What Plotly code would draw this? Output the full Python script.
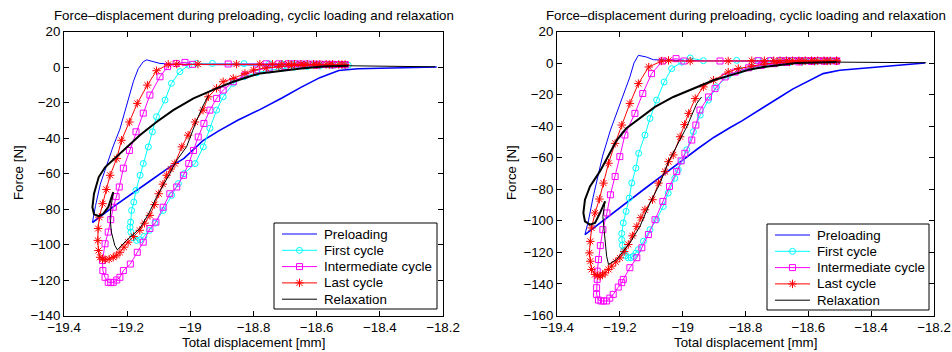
import plotly.graph_objects as go

# ---------------- data ----------------
x_tick_vals = [-19.4, -19.2, -19.0, -18.8, -18.6, -18.4, -18.2]
x_tick_text = ["\u221219.4", "\u221219.2", "\u221219", "\u221218.8", "\u221218.6", "\u221218.4", "\u221218.2"]
series_names = ["Preloading", "First cycle", "Intermediate cycle", "Last cycle", "Relaxation"]
series_colors = ["#0000ff", "#00ffff", "#ff00ff", "#ff0000", "#000000"]
series_symbols = [None, "circle-open", "square-open", "asterisk-open", None]
title_text = "Force\u2013displacement during preloading, cyclic loading and relaxation"

# ---- left panel ----
pre_load_L = [(-18.22, 0.0), (-18.30, -0.3), (-18.40, -0.6), (-18.47, -1.0), (-18.53, -2.0), (-18.59, -6.0),
              (-18.65, -11.5), (-18.71, -17.5), (-18.78, -24.0), (-18.85, -30.0), (-18.91, -36.0), (-18.96, -41.5),
              (-19.02, -51.5), (-19.07, -57.0), (-19.13, -64.5), (-19.19, -72.0), (-19.25, -79.5), (-19.31, -87.6)]
pre_unl_L = [(-19.31, -87.6), (-19.30, -78.0), (-19.285, -66.0), (-19.265, -55.0), (-19.245, -45.0), (-19.223, -35.0),
             (-19.20, -21.0), (-19.18, -8.0), (-19.165, -1.0), (-19.149, 3.0), (-19.138, 4.0), (-19.12, 3.0),
             (-19.096, 2.0), (-19.05, 1.5), (-18.95, 1.3), (-18.80, 1.1), (-18.65, 0.9), (-18.50, 0.7)]
first_L = [(-18.50, 1.0), (-18.52, 1.1), (-18.54, 1.2), (-18.56, 1.3), (-18.58, 1.4), (-18.60, 1.5), (-18.62, 1.5),
           (-18.64, 1.6), (-18.66, 1.6), (-18.68, 1.7), (-18.71, 1.8), (-18.75, 1.8), (-18.83, 1.9), (-18.93, 2.0),
           (-18.98, 2.0), (-19.005, 1.0), (-19.033, -2.6), (-19.06, -9.2), (-19.08, -18.6), (-19.107, -28.0),
           (-19.12, -36.5), (-19.133, -45.0), (-19.149, -54.4), (-19.159, -61.0), (-19.172, -69.5), (-19.179, -76.1),
           (-19.186, -80.8), (-19.189, -87.4), (-19.191, -90.2), (-19.188, -93.1), (-19.181, -96.2), (-19.170, -97.7),
           (-19.159, -97.4), (-19.147, -95.5), (-19.130, -92.1), (-19.112, -88.0), (-19.086, -80.8), (-19.059, -72.3),
           (-19.038, -65.7), (-19.020, -60.1), (-18.985, -54.4), (-18.959, -45.0), (-18.938, -34.5), (-18.917, -24.3),
           (-18.896, -16.8), (-18.864, -9.2), (-18.83, -5.5), (-18.79, -3.3), (-18.75, -1.8), (-18.71, -0.8),
           (-18.67, -0.1), (-18.63, 0.3), (-18.59, 0.6), (-18.55, 0.8), (-18.51, 0.9)]
inter_L = [(-18.51, 1.3), (-18.53, 1.4), (-18.55, 1.5), (-18.57, 1.5), (-18.59, 1.6), (-18.61, 1.6), (-18.63, 1.7),
           (-18.65, 1.7), (-18.67, 1.8), (-18.69, 1.8), (-18.72, 1.8), (-18.76, 1.8), (-18.88, 1.7), (-18.993, 1.5),
           (-19.017, 2.6), (-19.045, 2.0), (-19.072, 0.2), (-19.096, -5.5), (-19.128, -15.8), (-19.149, -26.0),
           (-19.172, -36.5), (-19.193, -47.0), (-19.212, -57.0), (-19.225, -67.6), (-19.235, -73.0), (-19.244, -79.0),
           (-19.252, -86.0), (-19.26, -93.0), (-19.27, -99.6), (-19.278, -109.0), (-19.277, -114.7), (-19.27, -118.5),
           (-19.26, -121.3), (-19.252, -121.5), (-19.244, -121.3), (-19.233, -120.0), (-19.223, -118.5),
           (-19.212, -114.7), (-19.19, -111.0), (-19.168, -104.4), (-19.149, -98.7), (-19.128, -91.0),
           (-19.109, -87.4), (-19.086, -79.0), (-19.065, -71.4), (-19.043, -67.6), (-19.022, -61.0), (-19.005, -54.4),
           (-18.99, -47.0), (-18.975, -39.4), (-18.957, -31.8), (-18.938, -24.3), (-18.917, -17.7), (-18.896, -13.0),
           (-18.864, -8.3), (-18.827, -4.5), (-18.79, -1.7), (-18.75, -0.5), (-18.70, 0.3), (-18.65, 0.8),
           (-18.60, 1.0), (-18.55, 1.2), (-18.51, 1.3)]
last_L = [(-18.51, 1.4), (-18.53, 1.4), (-18.55, 1.5), (-18.57, 1.5), (-18.59, 1.5), (-18.61, 1.5), (-18.63, 1.6),
          (-18.65, 1.6), (-18.67, 1.6), (-18.69, 1.6), (-18.71, 1.6), (-18.74, 1.6), (-18.78, 1.6), (-18.854, 1.6),
          (-18.976, 1.6), (-19.043, 1.6), (-19.07, 1.5), (-19.107, -2.1), (-19.136, -10.2), (-19.168, -20.5),
          (-19.193, -31.0), (-19.218, -41.3), (-19.233, -51.6), (-19.254, -61.0), (-19.266, -69.0), (-19.278, -77.0),
          (-19.288, -84.6), (-19.292, -91.0), (-19.293, -97.7), (-19.291, -103.4), (-19.286, -107.2),
          (-19.278, -108.3), (-19.27, -108.5), (-19.257, -108.2), (-19.244, -107.2), (-19.233, -106.0),
          (-19.223, -104.4), (-19.21, -101.5), (-19.197, -98.7), (-19.18, -95.5), (-19.16, -92.0), (-19.145, -88.0),
          (-19.128, -83.6), (-19.113, -77.5), (-19.10, -71.4), (-19.087, -66.0), (-19.075, -61.0), (-19.062, -57.5),
          (-19.049, -54.4), (-19.027, -45.0), (-19.007, -38.4), (-18.985, -31.0), (-18.96, -24.3), (-18.943, -16.8),
          (-18.917, -12.0), (-18.896, -8.3), (-18.864, -6.4), (-18.827, -3.6), (-18.80, -1.7), (-18.76, -0.5),
          (-18.72, 0.3), (-18.68, 0.8), (-18.64, 1.0), (-18.60, 1.2), (-18.56, 1.3), (-18.52, 1.4)]
relax_main_L = [(-18.50, 0.7), (-18.58, 0.3), (-18.65, -0.8), (-18.72, -2.2),
                (-18.78, -3.6), (-18.82, -5.8), (-18.864, -8.3), (-18.917, -12.0), (-18.99, -17.7), (-19.054, -24.3),
                (-19.107, -31.0), (-19.16, -38.4), (-19.212, -47.0), (-19.245, -52.5), (-19.27, -56.5),
                (-19.29, -62.0), (-19.305, -71.4), (-19.31, -79.0), (-19.305, -83.0), (-19.29, -84.0),
                (-19.276, -82.7), (-19.26, -79.0), (-19.244, -70.5)]
relax_tail_L = [(-19.244, -70.5), (-19.252, -80.0), (-19.254, -85.3), (-19.25, -93.0), (-19.239, -100.6),
                (-19.231, -103.0), (-19.202, -97.7), (-19.16, -91.0), (-19.13, -82.0), (-19.107, -73.3),
                (-19.065, -60.0), (-19.043, -52.5), (-19.012, -45.0), (-18.98, -30.0), (-18.96, -22.0),
                (-18.943, -16.0)]
relax_end_L = [(-18.50, 0.7), (-18.35, 0.4), (-18.225, 0.1)]

# ---- right panel ----
pre_load_R = [(-18.229, 0.0), (-18.35, -2.0), (-18.45, -3.6), (-18.50, -4.6), (-18.553, -6.7), (-18.605, -12.0),
              (-18.65, -16.5), (-18.69, -21.5), (-18.73, -26.5), (-18.764, -31.0), (-18.81, -36.5), (-18.85, -41.0),
              (-18.90, -47.0), (-18.95, -54.0), (-18.998, -61.4), (-19.06, -70.5), (-19.12, -79.5), (-19.18, -88.5),
              (-19.24, -98.0), (-19.311, -108.7)]
pre_unl_R = [(-19.311, -108.7), (-19.30, -100.0), (-19.285, -85.0), (-19.268, -69.0), (-19.255, -59.0),
             (-19.23, -42.5), (-19.194, -23.5), (-19.168, -8.8), (-19.155, 0.0), (-19.141, 4.9), (-19.115, 3.8),
             (-19.093, 2.1), (-19.0, 1.6), (-18.8, 1.3), (-18.6, 1.0), (-18.5, 0.8)]
first_R = [(-18.51, 1.2), (-18.53, 1.3), (-18.55, 1.4), (-18.57, 1.4), (-18.59, 1.5), (-18.61, 1.5), (-18.63, 1.6),
           (-18.65, 1.6), (-18.67, 1.6), (-18.69, 1.7), (-18.72, 1.7), (-18.76, 1.7), (-18.828, 1.7), (-18.934, 1.5),
           (-18.976, 3.2), (-19.003, 0.6), (-19.035, -3.5), (-19.059, -12.0), (-19.083, -23.5), (-19.104, -35.1),
           (-19.12, -45.6), (-19.14, -57.2), (-19.149, -66.6), (-19.162, -76.0), (-19.17, -85.6), (-19.18, -94.0),
           (-19.189, -101.3), (-19.194, -108.0), (-19.194, -111.9), (-19.192, -115.5), (-19.188, -119.0),
           (-19.181, -122.0), (-19.173, -123.5), (-19.165, -123.3), (-19.157, -122.4), (-19.149, -120.5),
           (-19.141, -118.2), (-19.125, -113.0), (-19.104, -105.6), (-19.083, -99.3), (-19.062, -90.9),
           (-19.046, -82.4), (-19.025, -73.0), (-19.014, -67.7), (-19.003, -62.0), (-18.987, -55.0),
           (-18.966, -43.5), (-18.944, -33.0), (-18.918, -23.5), (-18.892, -15.1), (-18.855, -7.8), (-18.818, -4.6),
           (-18.78, -2.5), (-18.74, -1.2), (-18.70, -0.3), (-18.66, 0.3), (-18.62, 0.7), (-18.58, 0.9),
           (-18.54, 1.1), (-18.51, 1.2)]
inter_R = [(-18.51, 1.3), (-18.53, 1.4), (-18.55, 1.4), (-18.57, 1.5), (-18.59, 1.5), (-18.61, 1.5), (-18.63, 1.5),
           (-18.65, 1.5), (-18.67, 1.5), (-18.69, 1.5), (-18.72, 1.5), (-18.76, 1.5), (-18.881, 1.3), (-18.996, 1.3),
           (-19.021, 2.8), (-19.064, 1.3), (-19.099, -6.7), (-19.127, -19.3), (-19.152, -31.9), (-19.184, -45.6),
           (-19.2, -59.3), (-19.215, -71.9), (-19.23, -83.5), (-19.241, -95.0), (-19.254, -105.6), (-19.262, -115.7),
           (-19.268, -124.5), (-19.272, -131.9), (-19.272, -137.1), (-19.274, -142.4), (-19.274, -146.6),
           (-19.268, -150.2), (-19.26, -150.8), (-19.252, -150.8), (-19.242, -150.8), (-19.232, -149.0),
           (-19.221, -146.6), (-19.205, -142.0), (-19.194, -139.2), (-19.189, -137.1), (-19.168, -129.7),
           (-19.146, -123.4), (-19.13, -117.1), (-19.109, -108.7), (-19.088, -99.3), (-19.063, -87.7),
           (-19.042, -78.2), (-19.019, -68.8), (-19.005, -62.0), (-18.993, -57.2), (-18.971, -48.8),
           (-18.958, -39.3), (-18.945, -29.8), (-18.918, -21.5), (-18.897, -16.2), (-18.865, -8.8), (-18.833, -5.7),
           (-18.79, -3.0), (-18.75, -1.5), (-18.71, -0.4), (-18.67, 0.3), (-18.63, 0.7), (-18.59, 1.0),
           (-18.55, 1.2), (-18.51, 1.3)]
last_R = [(-18.51, 1.4), (-18.53, 1.4), (-18.55, 1.5), (-18.57, 1.5), (-18.59, 1.5), (-18.61, 1.5), (-18.63, 1.5),
          (-18.65, 1.5), (-18.67, 1.5), (-18.69, 1.5), (-18.71, 1.5), (-18.74, 1.5), (-18.78, 1.5), (-18.855, 1.3),
          (-18.976, 1.3), (-19.045, 1.7), (-19.067, 1.3), (-19.108, -2.5), (-19.141, -13.0), (-19.168, -25.6),
          (-19.194, -39.3), (-19.215, -50.9), (-19.236, -63.5), (-19.252, -76.1), (-19.265, -86.2), (-19.279, -95.0),
          (-19.29, -104.5), (-19.294, -113.0), (-19.297, -120.3), (-19.294, -125.6), (-19.29, -130.8),
          (-19.279, -134.0), (-19.27, -134.8), (-19.263, -135.0), (-19.255, -134.3), (-19.247, -132.9),
          (-19.236, -130.8), (-19.226, -128.7), (-19.213, -126.0), (-19.2, -123.5), (-19.186, -119.5),
          (-19.173, -115.0), (-19.16, -109.5), (-19.146, -103.5), (-19.133, -98.0), (-19.12, -93.0),
          (-19.096, -86.6), (-19.077, -76.1), (-19.056, -68.8), (-19.045, -62.5), (-19.03, -58.2), (-19.008, -46.7),
          (-18.994, -39.0), (-18.981, -31.9), (-18.96, -22.5), (-18.934, -15.1), (-18.902, -10.9), (-18.855, -5.7),
          (-18.823, -3.5), (-18.78, -1.8), (-18.74, -0.6), (-18.70, 0.2), (-18.66, 0.7), (-18.62, 1.0),
          (-18.58, 1.2), (-18.54, 1.3), (-18.51, 1.4)]
relax_main_R = [(-18.51, 0.6), (-18.57, 0.4), (-18.637, 0.0), (-18.69, -1.2),
                (-18.743, -2.5), (-18.79, -4.2), (-18.818, -5.7), (-18.849, -7.8), (-18.902, -10.9), (-18.966, -16.2),
                (-19.03, -21.5), (-19.088, -27.8), (-19.146, -36.2), (-19.18, -41.5), (-19.21, -49.0),
                (-19.236, -59.0), (-19.263, -68.5), (-19.295, -78.2), (-19.311, -86.6), (-19.316, -95.0),
                (-19.311, -100.3), (-19.295, -102.4), (-19.279, -101.3), (-19.263, -95.0), (-19.247, -87.7)]
relax_tail_R = [(-19.247, -87.7), (-19.254, -97.2), (-19.25, -106.0), (-19.247, -114.0), (-19.242, -122.4),
                (-19.236, -127.7), (-19.21, -124.5), (-19.168, -114.0), (-19.136, -103.5), (-19.104, -88.7),
                (-19.072, -76.1), (-19.045, -62.5), (-19.019, -53.0), (-18.987, -40.4), (-18.955, -25.6),
                (-18.94, -21.5)]
relax_end_R = [(-18.51, 0.6), (-18.35, 0.4), (-18.225, 0.2)]

y_range_L = [-140, 20]
y_range_R = [-160, 20]

# ---------------- figure ----------------
FONT = "Liberation Sans, Arial, Helvetica, sans-serif"
FS = 13.3
W, H = 952, 352
fig = go.Figure()


def xs(p):
    return [a for a, b in p]


def ys(p):
    return [b for a, b in p]


def add_panel(k, pre_load, pre_unl, first, inter, last, rmain, rtail, rend):
    xa = "x" if k == 1 else "x2"
    ya = "y" if k == 1 else "y2"
    c = dict(xaxis=xa, yaxis=ya, showlegend=False, hoverinfo="skip")
    fig.add_trace(go.Scatter(x=xs(pre_load), y=ys(pre_load), mode="lines",
                             line=dict(color=series_colors[0], width=1.6), name=series_names[0], **c))
    fig.add_trace(go.Scatter(x=xs(pre_unl), y=ys(pre_unl), mode="lines",
                             line=dict(color=series_colors[0], width=1), name=series_names[0], **c))
    for i, d in [(1, first), (2, inter), (3, last)]:
        fig.add_trace(go.Scatter(x=xs(d), y=ys(d), mode="lines+markers",
                                 line=dict(color=series_colors[i], width=1),
                                 marker=dict(symbol=series_symbols[i], size=7 if i == 3 else 6,
                                             color=series_colors[i], line=dict(width=1, color=series_colors[i])),
                                 name=series_names[i], **c))
    fig.add_trace(go.Scatter(x=xs(rmain), y=ys(rmain), mode="lines",
                             line=dict(color=series_colors[4], width=2), name=series_names[4], **c))
    fig.add_trace(go.Scatter(x=xs(rtail), y=ys(rtail), mode="lines",
                             line=dict(color=series_colors[4], width=1), name=series_names[4], **c))
    fig.add_trace(go.Scatter(x=xs(rend), y=ys(rend), mode="lines",
                             line=dict(color=series_colors[4], width=1), name=series_names[4], **c))


add_panel(1, pre_load_L, pre_unl_L, first_L, inter_L, last_L, relax_main_L, relax_tail_L, relax_end_L)
add_panel(2, pre_load_R, pre_unl_R, first_R, inter_R, last_R, relax_main_R, relax_tail_R, relax_end_R)

# ---- legends (drawn in a full-figure pixel overlay so entries are spaced like the original) ----
annos = []
for bx, by, bw, bh in [(274, 223, 163, 86), (767, 224, 162, 86)]:
    fig.add_trace(go.Scatter(x=[bx, bx + bw, bx + bw, bx, bx], y=[by, by, by + bh, by + bh, by],
                             mode="lines", fill="toself", fillcolor="white", line=dict(color="black", width=1),
                             xaxis="x3", yaxis="y3", showlegend=False, hoverinfo="skip"))
    for i, nm in enumerate(series_names):
        ey = by + 11 + 16.3 * i
        fig.add_trace(go.Scatter(x=[bx + 8, bx + 43], y=[ey, ey], mode="lines",
                                 line=dict(color=series_colors[i], width=1),
                                 xaxis="x3", yaxis="y3", showlegend=False, hoverinfo="skip"))
        if series_symbols[i]:
            fig.add_trace(go.Scatter(x=[bx + 25.5], y=[ey], mode="markers",
                                     marker=dict(symbol=series_symbols[i], size=7 if i == 3 else 6,
                                                 color=series_colors[i],
                                                 line=dict(width=1, color=series_colors[i])),
                                     xaxis="x3", yaxis="y3", showlegend=False, hoverinfo="skip"))
        annos.append(dict(text=nm, x=(bx + 48) / W, y=1 - ey / H, xref="paper", yref="paper", showarrow=False,
                          xanchor="left", yanchor="middle", font=dict(family=FONT, size=FS, color="black")))

top_px, bot_px = 31.5, 315.5
ydom = [1 - bot_px / H, 1 - top_px / H]
L_left, L_right = 64, 443
R_left, R_right = 557, 934

axis_common = dict(showline=True, linecolor="black", linewidth=1, mirror="ticks", ticks="inside", ticklen=5,
                   tickcolor="black", showgrid=False, zeroline=False, automargin=False,
                   tickfont=dict(family=FONT, size=FS, color="black"))

fig.update_layout(
    width=W, height=H, margin=dict(l=0, r=0, t=0, b=0, autoexpand=False),
    paper_bgcolor="white", plot_bgcolor="rgba(0,0,0,0)",
    font=dict(family=FONT, size=FS, color="black"),
    showlegend=False,
    xaxis=dict(domain=[L_left / W, L_right / W], range=[-19.4, -18.2], tickvals=x_tick_vals, ticktext=x_tick_text,
               anchor="y", **axis_common),
    yaxis=dict(domain=ydom, range=y_range_L, dtick=20, anchor="x", **axis_common),
    xaxis2=dict(domain=[R_left / W, R_right / W], range=[-19.4, -18.2], tickvals=x_tick_vals, ticktext=x_tick_text,
                anchor="y2", **axis_common),
    yaxis2=dict(domain=ydom, range=y_range_R, dtick=20, anchor="x2", **axis_common),
    xaxis3=dict(domain=[0, 1], range=[0, W], visible=False, anchor="y3", fixedrange=True),
    yaxis3=dict(domain=[0, 1], range=[H, 0], visible=False, anchor="x3", fixedrange=True),
)

for cx in [(L_left + L_right) / 2, (R_left + R_right) / 2]:
    annos.append(dict(text=title_text, x=cx / W, y=1 - 16 / H, xref="paper", yref="paper", showarrow=False,
                      xanchor="center", yanchor="middle", font=dict(family=FONT, size=FS, color="black")))
    annos.append(dict(text="Total displacement [mm]", x=cx / W, y=1 - 342 / H, xref="paper", yref="paper",
                      showarrow=False, xanchor="center", yanchor="middle",
                      font=dict(family=FONT, size=FS, color="black")))
for yx in [18, 511]:
    annos.append(dict(text="Force [N]", x=yx / W, y=1 - 173 / H, xref="paper", yref="paper", showarrow=False,
                      textangle=-90, xanchor="center", yanchor="middle",
                      font=dict(family=FONT, size=FS, color="black")))
fig.update_layout(annotations=annos)

fig.write_html("out.html", config={"displayModeBar": False},
               post_script="document.body.style.margin='0px';document.body.style.overflow='hidden';")
